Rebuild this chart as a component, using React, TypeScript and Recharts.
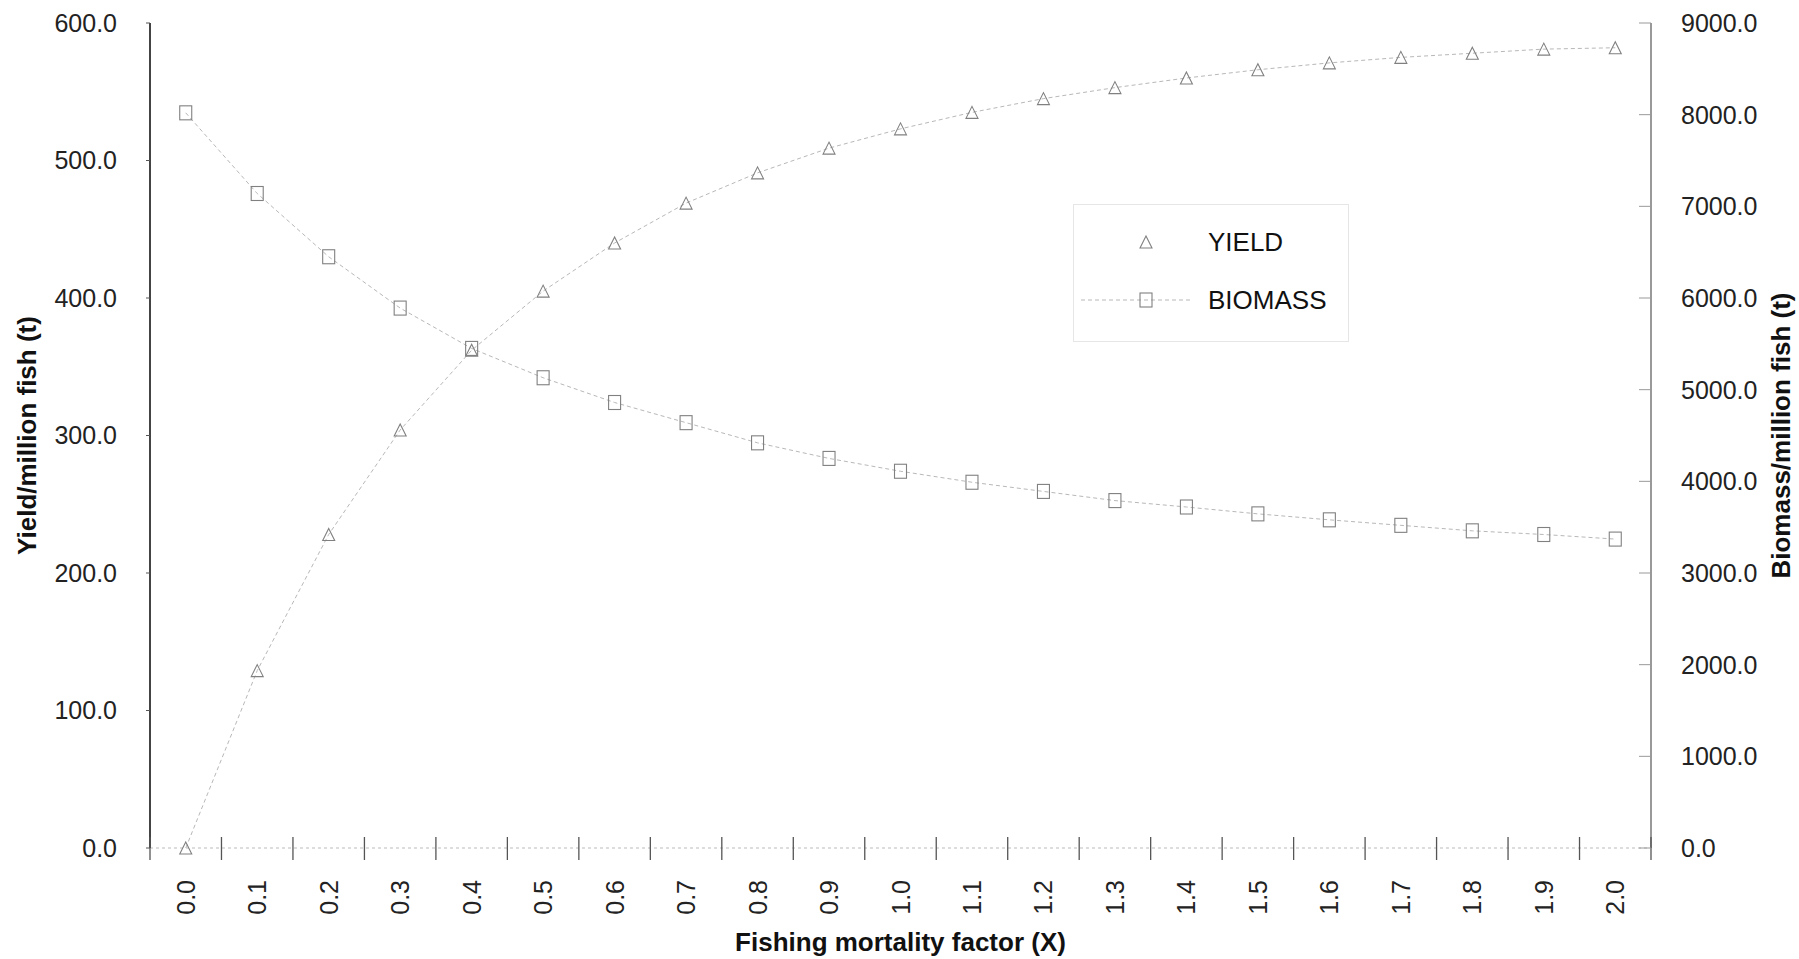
import React from "react";
import { ComposedChart, Line, XAxis, YAxis, Legend, Label } from "recharts";

// fishing mortality factor (X) categories
const factors = [
  "0.0", "0.1", "0.2", "0.3", "0.4", "0.5", "0.6", "0.7", "0.8", "0.9", "1.0",
  "1.1", "1.2", "1.3", "1.4", "1.5", "1.6", "1.7", "1.8", "1.9", "2.0",
];
// yield per million fish (t), left axis
const yieldVals = [0, 129, 228, 304, 362, 405, 440, 469, 491, 509, 523, 535, 545, 553, 560, 566, 571, 575, 578, 581, 582];
// biomass per million fish (t), right axis
const biomassVals = [8020, 7140, 6450, 5890, 5450, 5130, 4860, 4640, 4420, 4250, 4110, 3990, 3890, 3790, 3720, 3645, 3580, 3520, 3460, 3420, 3370];

const leftTicks = [0, 100, 200, 300, 400, 500, 600];
const rightTicks = [0, 1000, 2000, 3000, 4000, 5000, 6000, 7000, 8000, 9000];

const data = factors.map((f, i) => ({ f, yield: yieldVals[i], biomass: biomassVals[i] }));

const W = 1799;
const H = 959;
const LEFT_W = 150;
const RIGHT_W = 148;
const TOP = 23;
const XAXIS_H = 111;
const BAND = (W - LEFT_W - RIGHT_W) / factors.length;
const FONT = '"Liberation Sans", Arial, Helvetica, sans-serif';
const MARK = "#808080";
const LINE = "#b8b8b8";

const Tri = ({ cx, cy }: { cx: number; cy: number }) => (
  <polygon
    points={`${cx - 6},${cy + 6} ${cx},${cy - 6} ${cx + 6},${cy + 6}`}
    fill="none"
    stroke={MARK}
    strokeWidth={1.1}
  />
);

const Sq = ({ cx, cy }: { cx: number; cy: number }) => (
  <rect x={cx - 6} y={cy - 7} width={12} height={14} fill="none" stroke={MARK} strokeWidth={1.1} />
);

const XTick = (props: any) => {
  const { x, y, payload, index } = props;
  const left = x - BAND / 2;
  return (
    <g>
      <line x1={left} x2={left} y1={y - 43} y2={y - 20} stroke="#555" strokeWidth={1.3} />
      {index === factors.length - 1 && (
        <line x1={x + BAND / 2} x2={x + BAND / 2} y1={y - 43} y2={y - 20} stroke="#555" strokeWidth={1.3} />
      )}
      <text
        x={x}
        y={y}
        transform={`rotate(-90 ${x} ${y})`}
        textAnchor="end"
        dy="0.36em"
        fill="#222"
        fontSize={25}
        fontFamily={FONT}
      >
        {payload.value}
      </text>
    </g>
  );
};

const RightTick = (props: any) => {
  const { x, y, payload } = props;
  const ax = x - 30;
  return (
    <g>
      <line x1={ax - 12} x2={ax} y1={y} y2={y} stroke="#999" />
      <text x={x} y={y} dy="0.355em" textAnchor="start" fill="#222" fontSize={25} fontFamily={FONT}>
        {Number(payload.value).toFixed(1)}
      </text>
    </g>
  );
};

const LegendBox = () => (
  <svg width={276} height={138} style={{ display: "block" }}>
    <rect x={0.5} y={0.5} width={275} height={137} fill="#fff" stroke="#e6e6e6" />
    <Tri cx={73} cy={38} />
    <text x={135} y={38} dy="0.355em" fontSize={26} fill="#111" fontFamily={FONT}>YIELD</text>
    <line x1={8} x2={118} y1={96} y2={96} stroke={LINE} strokeDasharray="4 3" />
    <Sq cx={73} cy={96} />
    <text x={135} y={96} dy="0.355em" fontSize={26} fill="#111" fontFamily={FONT}>BIOMASS</text>
  </svg>
);

export default function App() {
  return (
    <div style={{ position: "absolute", left: 0, top: 0, background: "#fff" }}>
      <ComposedChart width={W} height={H} data={data} margin={{ top: TOP, right: 0, bottom: 0, left: 0 }}>
        <XAxis
          dataKey="f"
          type="category"
          interval={0}
          height={XAXIS_H}
          padding={{ left: BAND / 2, right: BAND / 2 }}
          tickSize={0}
          tickMargin={32}
          tickLine={false}
          axisLine={{ stroke: "#bbb", strokeDasharray: "3 3" }}
          tick={<XTick />}
        >
          <Label
            content={(p: any) => (
              <text
                x={p.viewBox.x + p.viewBox.width / 2}
                y={p.viewBox.y + 103}
                textAnchor="middle"
                fontSize={26}
                fontWeight="bold"
                fill="#111"
                fontFamily={FONT}
              >
                Fishing mortality factor (X)
              </text>
            )}
          />
        </XAxis>
        <YAxis
          yAxisId="left"
          orientation="left"
          width={LEFT_W}
          domain={[0, 600]}
          ticks={leftTicks}
          interval={0}
          tickFormatter={(v: number) => v.toFixed(1)}
          tickSize={4}
          tickMargin={29}
          tickLine={{ stroke: "#555" }}
          axisLine={{ stroke: "#444", strokeWidth: 2 }}
          tick={{ fill: "#222", fontSize: 25, fontFamily: FONT }}
        >
          <Label
            content={(p: any) => {
              const cx = p.viewBox.x + 27;
              const cy = p.viewBox.y + p.viewBox.height / 2;
              return (
                <text
                  x={cx}
                  y={cy}
                  transform={`rotate(-90 ${cx} ${cy})`}
                  textAnchor="middle"
                  dy="0.36em"
                  fontSize={26}
                  fontWeight="bold"
                  fill="#111"
                  fontFamily={FONT}
                >
                  Yield/million fish (t)
                </text>
              );
            }}
          />
        </YAxis>
        <YAxis
          yAxisId="right"
          orientation="right"
          width={RIGHT_W}
          domain={[0, 9000]}
          ticks={rightTicks}
          interval={0}
          tickSize={0}
          tickMargin={30}
          tickLine={false}
          axisLine={{ stroke: "#777", strokeWidth: 1.5 }}
          tick={<RightTick />}
        >
          <Label
            content={(p: any) => {
              const cx = p.viewBox.x + 130;
              const cy = p.viewBox.y + p.viewBox.height / 2;
              return (
                <text
                  x={cx}
                  y={cy}
                  transform={`rotate(-90 ${cx} ${cy})`}
                  textAnchor="middle"
                  dy="0.36em"
                  fontSize={26}
                  fontWeight="bold"
                  fill="#111"
                  fontFamily={FONT}
                >
                  Biomass/million fish (t)
                </text>
              );
            }}
          />
        </YAxis>
        <Legend
          layout="horizontal"
          verticalAlign="middle"
          align="center"
          content={() => <LegendBox />}
          wrapperStyle={{ left: 1073, top: 204, width: 276, height: 138 }}
        />
        <Line
          yAxisId="left"
          dataKey="yield"
          name="YIELD"
          type="linear"
          stroke={LINE}
          strokeWidth={1}
          strokeDasharray="4 3"
          isAnimationActive={false}
          dot={(p: any) => <Tri key={`t${p.index}`} cx={p.cx} cy={p.cy} />}
          activeDot={false}
        />
        <Line
          yAxisId="right"
          dataKey="biomass"
          name="BIOMASS"
          type="linear"
          stroke={LINE}
          strokeWidth={1}
          strokeDasharray="4 3"
          isAnimationActive={false}
          dot={(p: any) => <Sq key={`s${p.index}`} cx={p.cx} cy={p.cy} />}
          activeDot={false}
        />
      </ComposedChart>
    </div>
  );
}
